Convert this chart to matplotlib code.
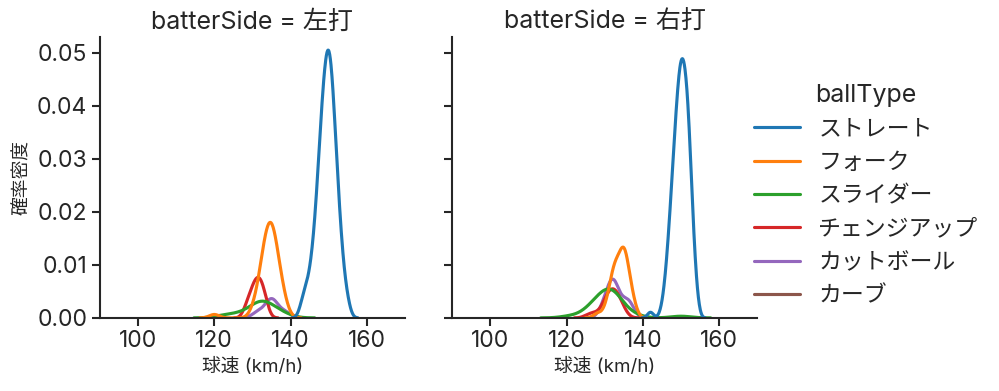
import numpy as np
import pandas as pd
import matplotlib
matplotlib.use("Agg")
import matplotlib.pyplot as plt
import seaborn as sns

sides = ["左打", "右打"]
ball_types = ["ストレート", "フォーク", "スライダー", "チェンジアップ", "カットボール", "カーブ"]

# 球速(km/h)ごとの投球数 -- 左打
l_straight_v = [143, 144, 145, 146, 147, 148, 149, 150, 151, 152, 153, 154, 155]
l_straight_n = [2, 3, 4, 7, 12, 19, 24, 27, 23, 15, 9, 4, 2]
l_fork_v = [120, 130, 131, 132, 133, 134, 135, 136, 137, 138, 139]
l_fork_n = [1, 1, 2, 4, 8, 9, 11, 8, 5, 3, 1]
l_slider_v = [122, 125, 127, 129, 130, 131, 132, 133, 134, 135, 136, 137, 139]
l_slider_n = [1, 1, 1, 1, 1, 2, 2, 2, 2, 1, 1, 1, 1]
l_change_v = [128, 129, 130, 131, 132, 133, 134]
l_change_n = [1, 2, 3, 4, 4, 3, 1]
l_cutter_v = [131, 132, 134, 135, 136, 138, 139]
l_cutter_n = [1, 1, 2, 3, 2, 1, 1]
l_curve_v = [115]
l_curve_n = [1]

# 球速(km/h)ごとの投球数 -- 右打
r_straight_v = [142, 145, 146, 147, 148, 149, 150, 151, 152, 153, 154]
r_straight_n = [1, 1, 4, 9, 15, 21, 25, 24, 20, 10, 3]
r_fork_v = [128, 130, 131, 132, 133, 134, 135, 136, 137, 138]
r_fork_n = [1, 1, 2, 5, 6, 5, 9, 5, 3, 1]
r_slider_v = [121, 125, 126, 127, 128, 129, 130, 131, 132, 133, 134, 136, 138, 150]
r_slider_n = [1, 1, 1, 2, 2, 2, 3, 4, 4, 3, 2, 1, 1, 1]
r_change_v = [126, 128, 130, 131, 132, 133, 134, 135]
r_change_n = [1, 1, 2, 3, 3, 3, 2, 1]
r_cutter_v = [129, 130, 131, 132, 133, 134, 135, 136, 137]
r_cutter_n = [1, 2, 3, 5, 4, 1, 2, 2, 2]

table = {
    "左打": [(l_straight_v, l_straight_n), (l_fork_v, l_fork_n), (l_slider_v, l_slider_n),
             (l_change_v, l_change_n), (l_cutter_v, l_cutter_n), (l_curve_v, l_curve_n)],
    "右打": [(r_straight_v, r_straight_n), (r_fork_v, r_fork_n), (r_slider_v, r_slider_n),
             (r_change_v, r_change_n), (r_cutter_v, r_cutter_n), ([], [])],
}

rows = []
for side in sides:
    for bt, (v, n) in zip(ball_types, table[side]):
        for s in np.repeat(v, n):
            rows.append({"batterSide": side, "ballType": bt, "speed": float(s)})
df = pd.DataFrame(rows)

sns.set_theme(style="ticks", context="talk")
plt.rcParams["font.family"] = ["Inter", "Noto Sans CJK JP", "DejaVu Sans"]
plt.rcParams["axes.linewidth"] = 1.5
plt.rcParams["xtick.major.size"] = 5.5
plt.rcParams["ytick.major.size"] = 5.5
plt.rcParams["xtick.major.width"] = 1.5
plt.rcParams["ytick.major.width"] = 1.5

g = sns.displot(df, x="speed", hue="ballType", col="batterSide", kind="kde",
                hue_order=ball_types, col_order=sides, palette="tab10",
                height=4, aspect=1, warn_singular=False)
g.set(xlim=(90, 170), xticks=[100, 120, 140, 160])
g.set_axis_labels("球速 (km/h)", "確率密度", fontsize=13.5)

fig = g.figure
fig.set_size_inches(9.99, 3.91)
fig.subplots_adjust(left=0.1, right=0.758, bottom=0.187, top=0.906, wspace=0.155)

fig.savefig("out.png", dpi=100)
